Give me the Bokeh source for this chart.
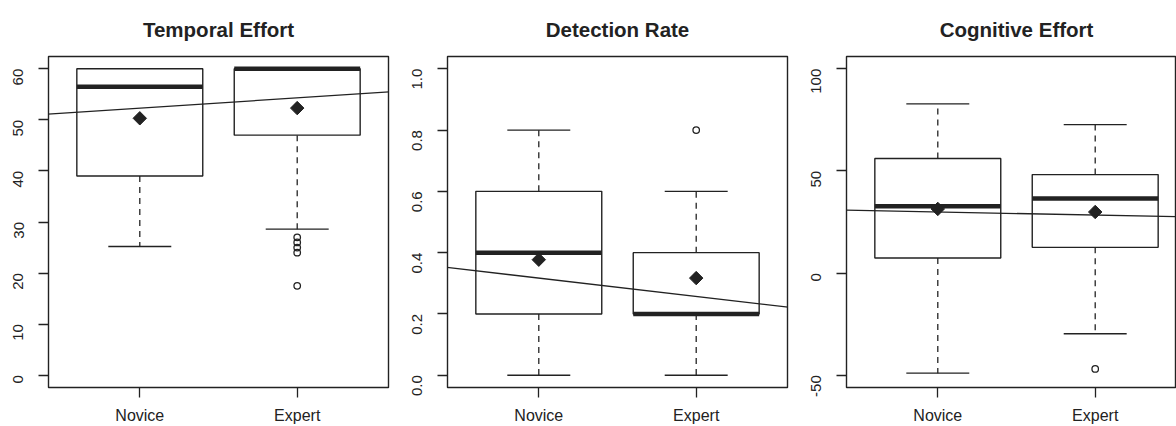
import math

from bokeh.embed import file_html
from bokeh.layouts import row
from bokeh.models import ColumnDataSource, FixedTicker, Range1d, Slope
from bokeh.plotting import figure
from bokeh.resources import INLINE

# ---- data -------------------------------------------------------------
categories = ["Novice", "Expert"]

# Temporal Effort
temporal_whisker_lo = [25.2, 28.6]
temporal_q1 = [39.0, 47.0]
temporal_median = [56.5, 60.0]
temporal_q3 = [60.0, 60.0]
temporal_whisker_hi = [60.0, 60.0]
temporal_mean = [50.3, 52.3]
temporal_outlier_group = ["Expert", "Expert", "Expert", "Expert", "Expert"]
temporal_outlier_value = [27.0, 26.0, 25.0, 24.0, 17.5]
temporal_ticks = [0, 10, 20, 30, 40, 50, 60]
temporal_tick_labels = ["0", "10", "20", "30", "40", "50", "60"]
temporal_limits = [0, 60]

# Detection Rate
detection_whisker_lo = [0.0, 0.0]
detection_q1 = [0.2, 0.2]
detection_median = [0.4, 0.2]
detection_q3 = [0.6, 0.4]
detection_whisker_hi = [0.8, 0.6]
detection_mean = [0.377, 0.317]
detection_outlier_group = ["Expert"]
detection_outlier_value = [0.8]
detection_ticks = [0.0, 0.2, 0.4, 0.6, 0.8, 1.0]
detection_tick_labels = ["0.0", "0.2", "0.4", "0.6", "0.8", "1.0"]
detection_limits = [0, 1]

# Cognitive Effort
cognitive_whisker_lo = [-49.0, -29.7]
cognitive_q1 = [7.4, 12.6]
cognitive_median = [32.7, 36.5]
cognitive_q3 = [56.1, 48.2]
cognitive_whisker_hi = [82.8, 72.7]
cognitive_mean = [31.4, 29.9]
cognitive_outlier_group = ["Expert"]
cognitive_outlier_value = [-46.9]
cognitive_ticks = [-50, 0, 50, 100]
cognitive_tick_labels = ["-50", "0", "50", "100"]
cognitive_limits = [-50, 100]

# ---- style ------------------------------------------------------------
INK = "#222222"
FONT = "Liberation Sans"
BOX_HALF = 0.4
CAP_HALF = 0.2
X_LO, X_HI = 0.42, 2.58          # 0.5..2.5 padded by 4 %
FULL_FRAME = 340                 # px width of an uncut panel frame
PX_PER_X = FULL_FRAME / (X_HI - X_LO)
TITLE_PX = 20.5
# approximate em-width of bold Helvetica-style text, used to centre a title
# over the full (uncut) frame when the frame is clipped on the right
BOLD_EM = {"C": .722, "o": .611, "g": .611, "n": .611, "i": .278, "t": .333,
           "v": .556, "e": .556, " ": .278, "E": .667, "f": .333, "r": .389}


def padded(lims):
    span = lims[1] - lims[0]
    return Range1d(lims[0] - 0.04 * span, lims[1] + 0.04 * span)


def panel(title, lo, q1, med, q3, hi, means, out_group, out_value,
          limits, ticks, tick_labels, width, border_left, border_right):
    frame_w = width - border_left - border_right
    x_end = X_LO + frame_w / PX_PER_X
    xs = [categories.index(c) + 1 for c in categories]

    p = figure(width=width, height=426, output_backend="svg",
               toolbar_location=None, x_range=Range1d(X_LO, x_end),
               y_range=padded(limits), min_border_left=border_left,
               min_border_right=border_right, min_border_top=56,
               min_border_bottom=39)
    p.background_fill_color = "white"
    p.border_fill_color = "white"
    p.outline_line_color = INK
    p.outline_line_width = 1.4
    p.grid.visible = False

    p.title.text = title
    p.title.text_font = FONT
    p.title.text_font_size = f"{TITLE_PX}px"
    p.title.text_font_style = "bold"
    p.title.text_color = INK
    p.title.standoff = 31
    if frame_w < FULL_FRAME:
        text_w = sum(BOLD_EM.get(ch, 0.6) for ch in title) * TITLE_PX
        p.title.align = "left"
        p.title.offset = FULL_FRAME / 2 - text_w / 2
    else:
        p.title.align = "center"

    # axes
    p.yaxis.ticker = FixedTicker(ticks=ticks)
    p.yaxis.major_label_overrides = dict(zip(ticks, tick_labels))
    p.yaxis.major_label_orientation = math.pi / 2
    p.xaxis.ticker = FixedTicker(ticks=xs)
    p.xaxis.major_label_overrides = {x: c for x, c in zip(xs, categories)}
    for ax in (p.xaxis[0], p.yaxis[0]):
        ax.axis_line_color = None
        ax.major_tick_in = 0
        ax.major_tick_out = 10
        ax.major_tick_line_color = INK
        ax.major_tick_line_width = 1.3
        ax.minor_tick_line_color = None
        ax.major_label_text_font = FONT
        ax.major_label_text_color = INK
    p.xaxis.major_label_text_font_size = "16px"
    p.xaxis.major_label_standoff = 9
    p.yaxis.major_label_text_font_size = "15px"
    p.yaxis.major_label_standoff = 20

    src = ColumnDataSource(dict(
        x=xs, lo=lo, q1=q1, med=med, q3=q3, hi=hi, mean=means,
        left=[x - BOX_HALF for x in xs], right=[x + BOX_HALF for x in xs],
        cl=[x - CAP_HALF for x in xs], cr=[x + CAP_HALF for x in xs],
    ))

    # dashed whiskers
    p.segment(x0="x", y0="q1", x1="x", y1="lo", source=src, line_color=INK,
              line_width=1.3, line_dash="6 5")
    p.segment(x0="x", y0="q3", x1="x", y1="hi", source=src, line_color=INK,
              line_width=1.3, line_dash="6 5")
    # whisker caps
    p.segment(x0="cl", y0="lo", x1="cr", y1="lo", source=src,
              line_color=INK, line_width=1.3)
    p.segment(x0="cl", y0="hi", x1="cr", y1="hi", source=src,
              line_color=INK, line_width=1.3)
    # boxes
    p.quad(left="left", right="right", bottom="q1", top="q3", source=src,
           fill_color="white", line_color=INK, line_width=1.4)
    # medians
    p.segment(x0="left", y0="med", x1="right", y1="med", source=src,
              line_color=INK, line_width=4.5)
    # outliers
    ox = [categories.index(g) + 1 for g in out_group]
    p.scatter(ox, out_value, marker="circle", size=6.5, fill_color=None,
              line_color=INK, line_width=1.3)
    # group means
    p.scatter(x="x", y="mean", source=src, marker="square",
              angle=math.pi / 4, size=9.5, fill_color=INK, line_color=INK)
    # fitted line through the group means (Novice = 0, Expert = 1)
    p.add_layout(Slope(gradient=means[1] - means[0], y_intercept=means[0],
                       line_color=INK, line_width=1.3))
    return p


p1 = panel("Temporal Effort", temporal_whisker_lo, temporal_q1,
           temporal_median, temporal_q3, temporal_whisker_hi, temporal_mean,
           temporal_outlier_group, temporal_outlier_value, temporal_limits,
           temporal_ticks, temporal_tick_labels, 400, 48, 12)
p2 = panel("Detection Rate", detection_whisker_lo, detection_q1,
           detection_median, detection_q3, detection_whisker_hi,
           detection_mean, detection_outlier_group, detection_outlier_value,
           detection_limits, detection_ticks, detection_tick_labels,
           399, 47, 12)
p3 = panel("Cognitive Effort", cognitive_whisker_lo, cognitive_q1,
           cognitive_median, cognitive_q3, cognitive_whisker_hi,
           cognitive_mean, cognitive_outlier_group, cognitive_outlier_value,
           cognitive_limits, cognitive_ticks, cognitive_tick_labels,
           377, 47, 0)

layout = row(p1, p2, p3, spacing=0)
open("out.html", "w").write(file_html(layout, INLINE))
